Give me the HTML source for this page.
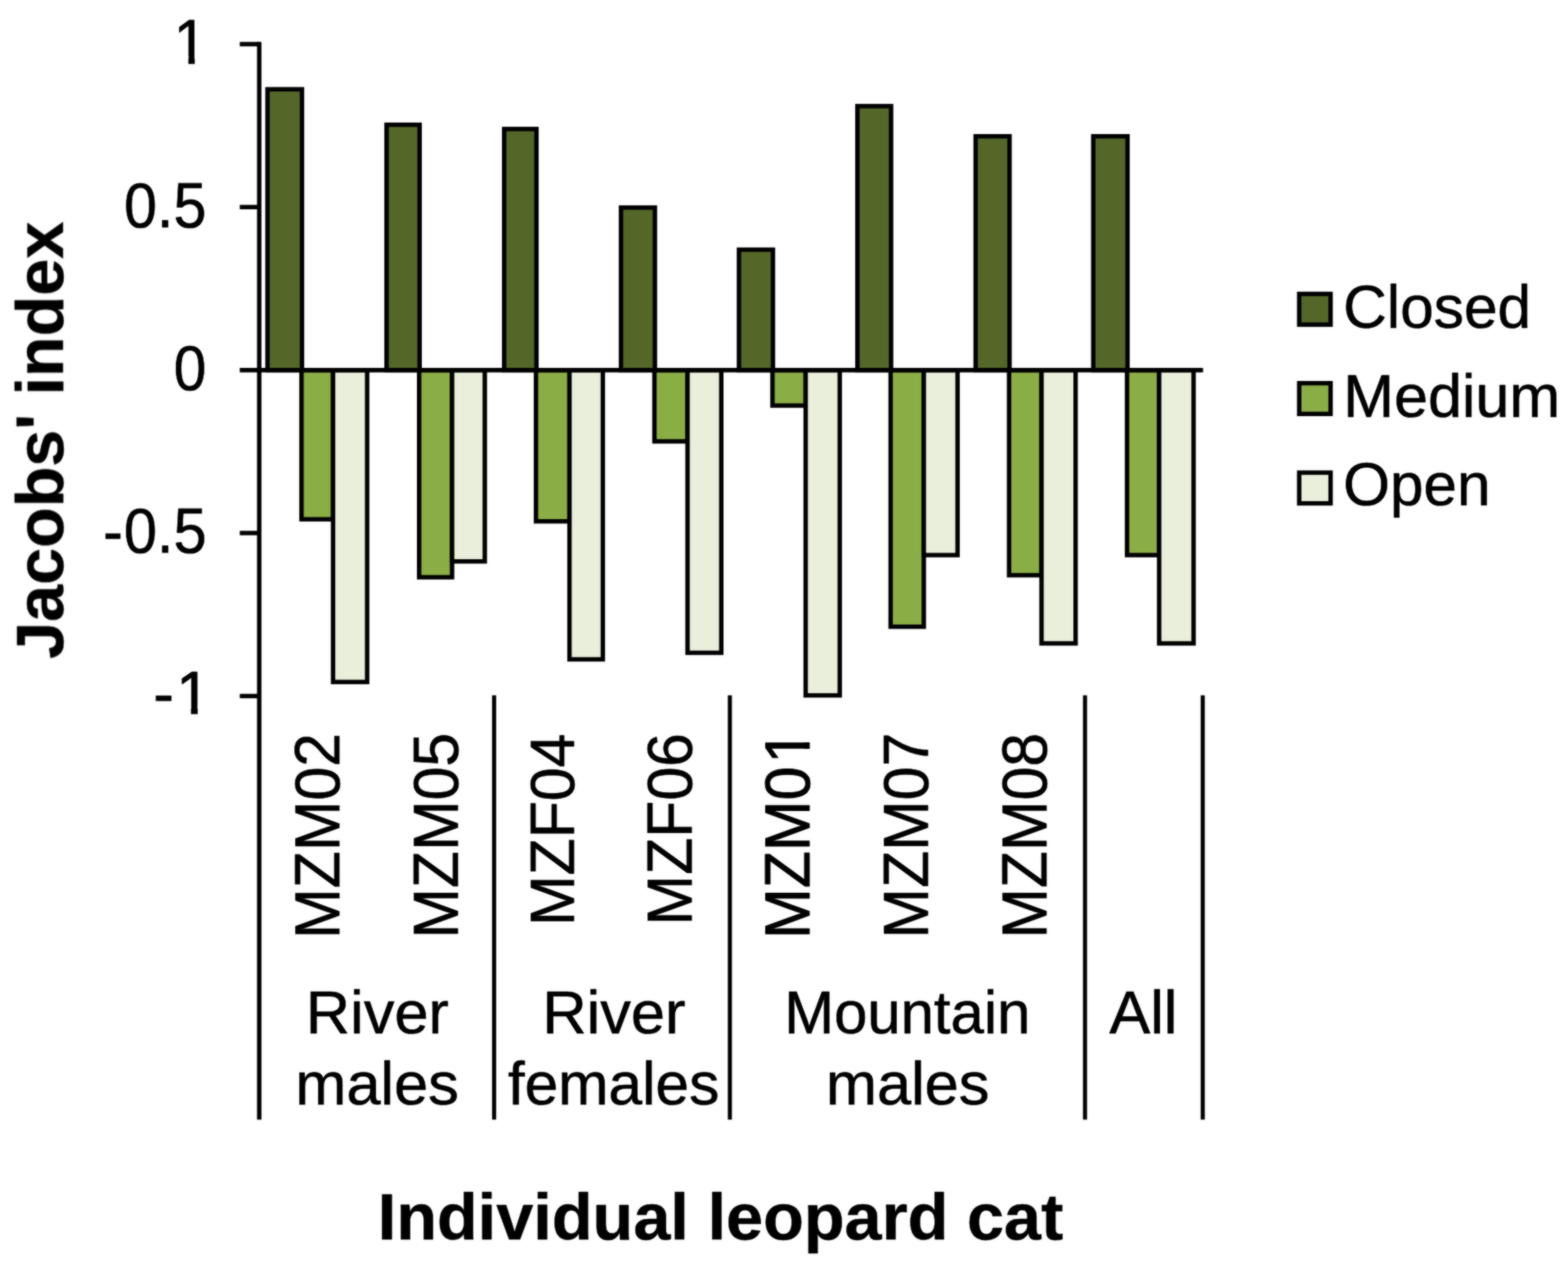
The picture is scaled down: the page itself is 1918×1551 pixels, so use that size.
<!DOCTYPE html>
<html lang="en"><head><meta charset="utf-8"><title>Jacobs' index</title>
<style>
html,body{margin:0;padding:0;background:#fff;}
body{width:1918px;height:1551px;overflow:hidden;}
svg{display:block;}
text{font-family:"Liberation Sans",Arial,Helvetica,sans-serif;fill:#000;stroke:#000;stroke-linejoin:round;font-kerning:none;}
.r{font-size:75px;stroke-width:0.7;}
.b{font-size:82px;font-weight:bold;stroke-width:0.5;}
</style>
</head><body>
<svg width="1918" height="1551" viewBox="0 0 1918 1551">
<defs>
<filter id="soft" filterUnits="userSpaceOnUse" x="0" y="0" width="1918" height="1551" color-interpolation-filters="sRGB"><feGaussianBlur stdDeviation="1" result="b"/><feComposite in="SourceGraphic" in2="b" operator="arithmetic" k1="0" k2="0.4" k3="0.6" k4="0"/></filter>
<clipPath id="c1"><rect x="-400" y="-120" width="900" height="110.55"/><rect x="18.21" y="-9.95" width="7.93" height="18.45"/></clipPath>
<clipPath id="c2"><rect x="-400" y="-120" width="900" height="109.03"/><rect x="46.42" y="-11.47" width="8.33" height="18.65"/></clipPath>
<clipPath id="c3"><rect x="-400" y="-120" width="900" height="110.40"/><rect x="234.44" y="-10.10" width="8.23" height="18.60"/><rect x="-400" y="-10.10" width="620.89" height="39.60"/></clipPath>
</defs>
<rect x="0" y="0" width="1918" height="1551" fill="#ffffff"/>
<g filter="url(#soft)">
<g stroke="#000" stroke-width="5.4" stroke-linejoin="miter">
<rect x="368.8" y="452.7" width="38.6" height="182.5" fill="#8BAD46"/>
<rect x="407.4" y="452.7" width="41.7" height="381.5" fill="#EAEFDC"/>
<rect x="327.2" y="109.2" width="42.2" height="343.5" fill="#546729"/>
<rect x="512.7" y="452.7" width="40.3" height="253.4" fill="#8BAD46"/>
<rect x="553.0" y="452.7" width="40.0" height="234.0" fill="#EAEFDC"/>
<rect x="472.8" y="152.6" width="40.5" height="300.1" fill="#546729"/>
<rect x="655.6" y="452.7" width="41.0" height="185.0" fill="#8BAD46"/>
<rect x="696.6" y="452.7" width="40.8" height="353.8" fill="#EAEFDC"/>
<rect x="616.7" y="157.8" width="39.5" height="294.9" fill="#546729"/>
<rect x="800.5" y="452.7" width="40.5" height="87.2" fill="#8BAD46"/>
<rect x="841.0" y="452.7" width="41.3" height="345.8" fill="#EAEFDC"/>
<rect x="759.6" y="253.9" width="41.5" height="198.8" fill="#546729"/>
<rect x="944.9" y="452.7" width="40.6" height="43.4" fill="#8BAD46"/>
<rect x="985.5" y="452.7" width="41.7" height="397.9" fill="#EAEFDC"/>
<rect x="903.9" y="305.4" width="41.6" height="147.3" fill="#546729"/>
<rect x="1089.4" y="452.7" width="40.6" height="313.9" fill="#8BAD46"/>
<rect x="1130.0" y="452.7" width="41.3" height="226.3" fill="#EAEFDC"/>
<rect x="1048.8" y="129.8" width="41.2" height="322.9" fill="#546729"/>
<rect x="1234.3" y="452.7" width="39.7" height="250.9" fill="#8BAD46"/>
<rect x="1274.0" y="452.7" width="41.7" height="334.3" fill="#EAEFDC"/>
<rect x="1193.4" y="166.7" width="41.5" height="286.0" fill="#546729"/>
<rect x="1378.6" y="452.7" width="39.3" height="226.3" fill="#8BAD46"/>
<rect x="1417.9" y="452.7" width="42.1" height="334.3" fill="#EAEFDC"/>
<rect x="1337.3" y="166.7" width="41.9" height="286.0" fill="#546729"/>
</g>
<g stroke="#000" stroke-width="5.4" fill="none" stroke-linecap="butt">
<line x1="317.1" y1="51.3" x2="317.1" y2="1369.6"/>
<line x1="293.3" y1="452.7" x2="1471.6" y2="452.7"/>
<line x1="293.3" y1="54.0" x2="317.1" y2="54.0"/>
<line x1="293.3" y1="253.3" x2="317.1" y2="253.3"/>
<line x1="293.3" y1="652.0" x2="317.1" y2="652.0"/>
<line x1="293.3" y1="851.4" x2="317.1" y2="851.4"/>
</g>
<g stroke="#000" stroke-width="5.0" fill="none">
<line x1="604.4" y1="850.6" x2="604.4" y2="1369.6"/>
<line x1="892.8" y1="850.6" x2="892.8" y2="1369.6"/>
<line x1="1327.2" y1="850.6" x2="1327.2" y2="1369.6"/>
<line x1="1471.2" y1="850.6" x2="1471.2" y2="1369.6"/>
</g>
<text class="r" transform="translate(252.40,477.00) scale(0.955,1.04)" text-anchor="end">0</text>
<text class="r" transform="translate(252.40,277.70) scale(0.965,1.04)" text-anchor="end">0.5</text>
<text class="r" transform="translate(125.96,676.92) scale(0.972,1.04)" text-anchor="start" dx="0 1.26" dy="0 -1.08">-0.5</text>
<text class="r" transform="translate(212.37,78.00) scale(0.99,1.04)" text-anchor="start" clip-path="url(#c1)">1</text>
<text class="r" transform="translate(187.64,873.92) scale(0.99,1.0)" text-anchor="start" dx="0 3.44" dy="0 -1.32" clip-path="url(#c2)" style="stroke-width:1.1">-1</text>
<text class="r" transform="translate(414.70,896.60) rotate(-90) scale(0.99,1.045)" text-anchor="end">MZM02</text>
<text class="r" transform="translate(559.50,896.40) rotate(-90) scale(0.99,1.04)" text-anchor="end">MZM05</text>
<text class="r" transform="translate(702.00,897.40) rotate(-90) scale(0.99,1.015)" text-anchor="end">MZF04</text>
<text class="r" transform="translate(846.40,896.80) rotate(-90) scale(0.99,1.035)" text-anchor="end">MZF06</text>
<text class="r" transform="translate(990.40,1148.15) rotate(-90) scale(0.99,1.035)" text-anchor="start" dx="0 0 0 0 3.90" clip-path="url(#c3)" style="stroke-width:1">MZM01</text>
<text class="r" transform="translate(1135.30,896.30) rotate(-90) scale(0.99,1.035)" text-anchor="end">MZM07</text>
<text class="r" transform="translate(1280.20,896.50) rotate(-90) scale(0.99,1.04)" text-anchor="end">MZM08</text>
<text class="r" transform="translate(461.60,1264.20) scale(1.0,0.995)" text-anchor="middle">River</text>
<text class="r" transform="translate(461.20,1350.50) scale(1.0,0.995)" text-anchor="middle">males</text>
<text class="r" transform="translate(750.90,1264.20) scale(1.0,0.995)" text-anchor="middle">River</text>
<text class="r" transform="translate(750.50,1350.50) scale(0.985,0.995)" text-anchor="middle">females</text>
<text class="r" transform="translate(1109.80,1264.20) scale(0.976,0.995)" text-anchor="middle">Mountain</text>
<text class="r" transform="translate(1110.30,1350.50) scale(1.0,0.995)" text-anchor="middle">males</text>
<text class="r" transform="translate(1398.60,1264.20) scale(1.0,0.995)" text-anchor="middle">All</text>
<text class="b" transform="translate(881.30,1516.20) scale(0.995,0.98)" text-anchor="middle">Individual leopard cat</text>
<text class="b" transform="translate(76.80,538.60) rotate(-90) scale(0.992,0.985)" text-anchor="middle">Jacobs' index</text>
<g stroke="#000" stroke-width="5.4">
<rect x="1589.2" y="359.5" width="38.4" height="37.6" fill="#546729"/>
<rect x="1589.2" y="468.7" width="38.4" height="37.6" fill="#8BAD46"/>
<rect x="1589.2" y="578.1" width="38.4" height="37.6" fill="#EAEFDC"/>
</g>
<text class="r" transform="translate(1643.00,401.40) scale(0.985,0.995)" text-anchor="start">Closed</text>
<text class="r" transform="translate(1643.00,509.60) scale(0.995,0.995)" text-anchor="start">Medium</text>
<text class="r" transform="translate(1643.00,618.00) scale(0.982,0.995)" text-anchor="start">Open</text>
</g>
</svg>
</body></html>
